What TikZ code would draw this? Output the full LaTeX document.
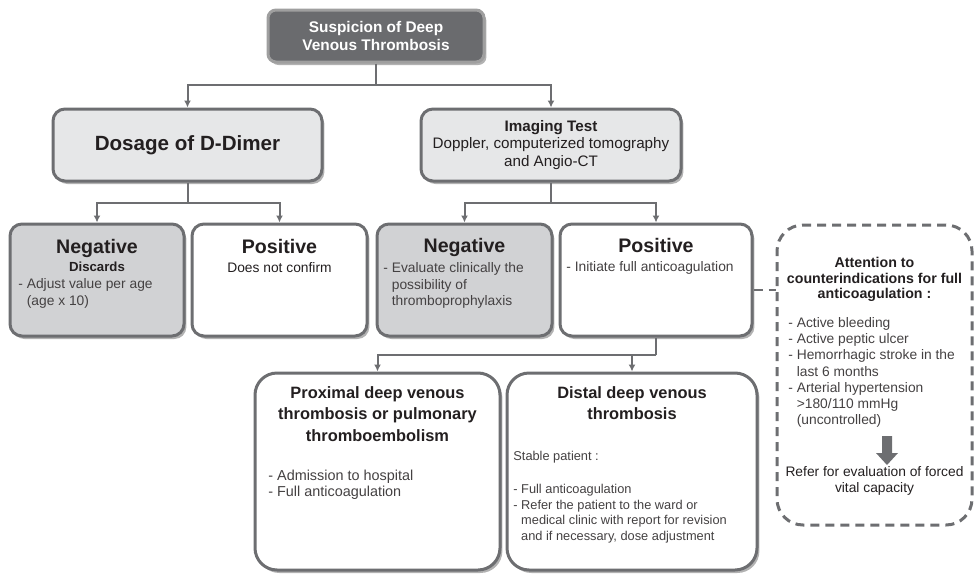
\documentclass[tikz,border=0pt]{standalone}
\usepackage{fontspec}
\setmainfont{Liberation Sans}
\usetikzlibrary{arrows.meta, shadows}
\definecolor{linec}{HTML}{6D6E71}
\definecolor{darkbox}{HTML}{6A6B6E}
\definecolor{lightbox}{HTML}{E6E7E8}
\definecolor{negbox}{HTML}{D1D2D4}
\definecolor{txt}{HTML}{231F20}
\newcommand\fTop{\fontsize{7.7}{9}\selectfont\bfseries}
\newcommand\fDim{\fontsize{10.3}{12}\selectfont\bfseries}
\newcommand\fImg{\fontsize{7.6}{8.75}\selectfont}
\newcommand\fRes{\fontsize{9.8}{11}\selectfont\bfseries}
\newcommand\fSmall{\fontsize{6.9}{8.3}\selectfont}
\newcommand\fCase{\fontsize{8.2}{10.8}\selectfont\bfseries}
\newcommand\fCaseL{\fontsize{7.2}{8}\selectfont}
\newcommand\fDist{\fontsize{6.4}{7.75}\selectfont}
\newcommand\fAttn{\fontsize{7.1}{7.75}\selectfont\bfseries}
\newcommand\fAttnL{\fontsize{6.9}{8.1}\selectfont}
\newcommand\lstind{\hphantom{- }}
\tikzset{
  box/.style={draw=linec, line width=1.5pt, rounded corners=6pt, inner sep=0pt,
    text=txt, align=center,
    drop shadow={shadow xshift=1.2pt, shadow yshift=-1.5pt, fill=black, opacity=.3}},
  bigbox/.style={box, rounded corners=11pt},
  conn/.style={draw=linec, line width=1pt},
  arr/.style={conn, -{Latex[length=3.5pt,width=3.5pt]}},
  ttl/.style={inner sep=0pt, text=txt, align=center},
  lst/.style={inner sep=0pt, text=txt!85, align=left, anchor=north west}
}
\begin{document}
\begin{tikzpicture}[x=0.5pt, y=-0.5pt]
\useasboundingbox (0,0) rectangle (974,573);

\node[box, fill=darkbox, draw=gray!75, rounded corners=4pt, text=white, font=\fTop,
  minimum width=108pt, minimum height=26pt] (susp) at (376,36) {Suspicion of Deep\\Venous Thrombosis};
\node[box, fill=lightbox, font=\fDim, minimum width=134.5pt, minimum height=36pt] (dim) at (187.5,145) {Dosage of D-Dimer};
\node[box, fill=lightbox, font=\fImg, minimum width=130pt, minimum height=36pt] (img) at (551,145)
  {{\bfseries Imaging Test}\\Doppler, computerized tomography\\and Angio-CT};

\node[box, fill=negbox, minimum width=87pt, minimum height=56pt] (negL) at (97,280) {};
\node[box, fill=white, minimum width=87.5pt, minimum height=56pt] (posL) at (279.5,280) {};
\node[box, fill=negbox, minimum width=87.5pt, minimum height=56pt] (negR) at (464.5,280) {};
\node[box, fill=white, minimum width=96pt, minimum height=56pt] (posR) at (656,280) {};
\node[bigbox, fill=white, minimum width=122.5pt, minimum height=98.5pt] (prox) at (377.5,471.5) {};
\node[bigbox, fill=white, minimum width=125pt, minimum height=98.5pt] (dist) at (632,471.5) {};
\node[draw=linec, line width=1.5pt, dash pattern=on 4.5pt off 3pt, rounded corners=13pt, inner sep=0pt,
  minimum width=97.5pt, minimum height=150pt] (attn) at (874.5,375) {};

\node[ttl, font=\fRes, anchor=base] (negL-h) at (97,253) {Negative};
\node[ttl, font=\fontsize{6.6}{8}\selectfont\bfseries, anchor=base] (negL-s) at (97,271) {Discards};
\node[lst, font=\fSmall] (negL-l) at (18,278) {- Adjust value per age\\\lstind(age x 10)};
\node[ttl, font=\fRes, anchor=base] (posL-h) at (279.5,253) {Positive};
\node[ttl, font=\fSmall, anchor=base] (posL-s) at (279.5,272) {Does not confirm};
\node[ttl, font=\fRes, anchor=base] (negR-h) at (464.5,252) {Negative};
\node[lst, font=\fSmall] (negR-l) at (383,262) {- Evaluate clinically the\\\lstind possibility of\\\lstind thromboprophylaxis};
\node[ttl, font=\fRes, anchor=base] (posR-h) at (656,252) {Positive};
\node[lst, font=\fSmall, anchor=base west] (posR-l) at (566,271) {- Initiate full anticoagulation};

\node[ttl, font=\fCase, anchor=north] (prox-h) at (377.5,386) {Proximal deep venous\\thrombosis or pulmonary\\thromboembolism};
\node[lst, font=\fCaseL] (prox-l) at (268,470) {- Admission to hospital\\- Full anticoagulation};
\node[ttl, font=\fCase, anchor=north] (dist-h) at (632,386) {Distal deep venous\\thrombosis};
\node[lst, font=\fDist, anchor=base west] (dist-s) at (513,460) {Stable patient :};
\node[lst, font=\fDist] (dist-l) at (513,484) {- Full anticoagulation\\- Refer the patient to the ward or\\\lstind medical clinic with report for revision\\\lstind and if necessary, dose adjustment};

\node[ttl, font=\fAttn, anchor=north] (attn-h) at (874.5,257) {Attention to\\counterindications for full\\anticoagulation :};
\node[lst, font=\fAttnL] (attn-l) at (788,317) {- Active bleeding\\- Active peptic ulcer\\- Hemorrhagic stroke in the\\\lstind last 6 months\\- Arterial hypertension\\\lstind >180/110 mmHg\\\lstind (uncontrolled)};
\fill[linec] (882,436) -- (892,436) -- (892,453) -- (898,453) -- (887,465) -- (876,453) -- (882,453) -- cycle;
\node[ttl, font=\fAttnL, align=center, anchor=north] (attn-r) at (874.5,466) {Refer for evaluation of forced\\vital capacity};

\coordinate (j1) at (376,85);
\coordinate (j2) at (187.5,203);
\coordinate (j3) at (551,203);
\coordinate (j4) at (656,355);
\draw[conn] (susp.south) -- (j1);
\draw[arr] (j1) -| (dim.north);
\draw[arr] (j1) -| (img.north);
\draw[conn] (dim.south) -- (j2);
\draw[arr] (j2) -| (negL.north);
\draw[arr] (j2) -| (posL.north);
\draw[conn] (img.south) -- (j3);
\draw[arr] (j3) -| (negR.north);
\draw[arr] (j3) -| (posR.north);
\draw[conn] (posR.south) -- (j4);
\draw[arr] (j4) -| (prox.north);
\draw[arr] (j4) -| (dist.north);
\coordinate (d0) at ([yshift=-5pt]posR.east);
\draw[conn, line width=1.2pt, dash pattern=on 4.5pt off 3pt] (d0) -- (d0 -| attn.west);
\end{tikzpicture}
\end{document}
